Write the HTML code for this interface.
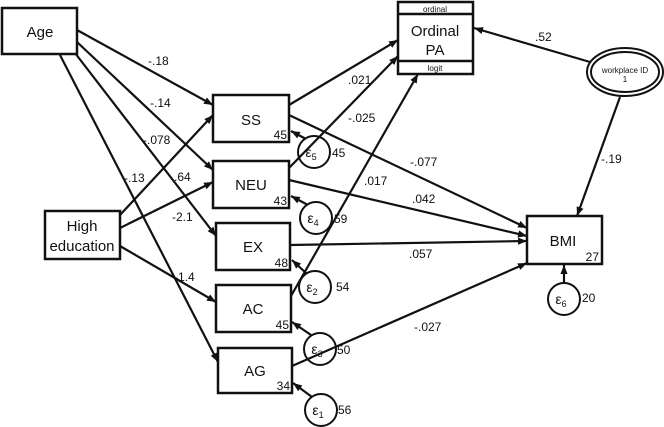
<!DOCTYPE html>
<html><head><style>body{margin:0;background:#fff}svg{display:block}text{font-family:"Liberation Sans",sans-serif;fill:#111}</style></head><body>
<svg width="664" height="427" viewBox="0 0 664 427" xmlns="http://www.w3.org/2000/svg">
<defs><marker id="a" viewBox="0 0 10 10" refX="10" refY="5" markerWidth="9" markerHeight="9" markerUnits="userSpaceOnUse" orient="auto"><path d="M0,1 L10,5 L0,9 z" fill="#111"/></marker></defs>
<g stroke="#111" stroke-width="2.2" fill="none" marker-end="url(#a)">
<line x1="77" y1="30" x2="213" y2="105"/>
<line x1="77" y1="42" x2="213" y2="170"/>
<line x1="75" y1="53" x2="216" y2="236"/>
<line x1="60" y1="55" x2="218" y2="362"/>
<line x1="120" y1="215" x2="213" y2="115"/>
<line x1="120" y1="228" x2="213" y2="182"/>
<line x1="120" y1="246" x2="216" y2="302"/>
<line x1="289" y1="105" x2="398" y2="40"/>
<line x1="289" y1="168" x2="398" y2="56"/>
<line x1="291" y1="296" x2="418" y2="74"/>
<line x1="289" y1="115" x2="527" y2="228"/>
<line x1="289" y1="180" x2="527" y2="236"/>
<line x1="290" y1="245" x2="527" y2="241"/>
<line x1="292" y1="366" x2="527" y2="263"/>
<line x1="590" y1="62" x2="474" y2="28"/>
<line x1="620" y1="97" x2="577" y2="216"/>
<line x1="564" y1="283" x2="564" y2="265"/>
<line x1="306" y1="139" x2="291" y2="131"/>
<line x1="308" y1="205" x2="291" y2="196"/>
<line x1="307" y1="274" x2="292" y2="260"/>
<line x1="311" y1="335" x2="292" y2="322"/>
<line x1="312" y1="397" x2="293" y2="383"/>
</g>
<g stroke="#111" stroke-width="2.5" fill="#fff">
<rect x="2" y="8" width="75" height="46"/>
<rect x="45" y="211" width="75" height="48"/>
<rect x="213" y="95" width="76" height="47"/>
<rect x="213" y="161" width="76" height="47"/>
<rect x="216" y="223" width="74" height="47"/>
<rect x="216" y="285" width="75" height="47"/>
<rect x="218" y="348" width="74" height="45"/>
<rect x="527" y="216" width="75" height="48"/>
<rect x="398" y="2" width="75" height="72"/>
<line x1="398" y1="14" x2="473" y2="14"/><line x1="398" y1="61" x2="473" y2="61"/>
</g>
<g stroke="#111" stroke-width="2" fill="none">
<circle cx="314" cy="152" r="16"/><circle cx="316" cy="218" r="16"/><circle cx="315" cy="287" r="16"/><circle cx="320" cy="349" r="16"/><circle cx="321" cy="410" r="16"/><circle cx="564" cy="299" r="16"/>
<ellipse cx="625" cy="72" rx="38" ry="24"/><ellipse cx="625" cy="72" rx="34" ry="20"/>
</g>
<g font-size="15" text-anchor="middle">
<text x="40" y="37">Age</text><text x="82" y="231">High</text><text x="82" y="251">education</text>
<text x="251" y="125">SS</text><text x="251" y="190">NEU</text><text x="253" y="252">EX</text><text x="253" y="314">AC</text><text x="255" y="376">AG</text>
<text x="563" y="246">BMI</text><text x="435" y="36">Ordinal</text><text x="435" y="55">PA</text>
</g>
<g font-size="8" text-anchor="middle" fill="#444"><text x="435" y="12">ordinal</text><text x="435" y="71">logit</text><text x="625" y="73">workplace ID</text><text x="625" y="82">1</text></g>
<g font-size="12" text-anchor="end"><text x="287" y="139">45</text><text x="287" y="205">43</text><text x="288" y="267">48</text><text x="289" y="329">45</text><text x="290" y="390">34</text><text x="599" y="261">27</text></g>
<g font-size="14" text-anchor="middle"><text x="311" y="157">ε<tspan font-size="9" dy="3">5</tspan></text><text x="313" y="223">ε<tspan font-size="9" dy="3">4</tspan></text><text x="312" y="292">ε<tspan font-size="9" dy="3">2</tspan></text><text x="317" y="354">ε<tspan font-size="9" dy="3">3</tspan></text><text x="318" y="415">ε<tspan font-size="9" dy="3">1</tspan></text><text x="561" y="304">ε<tspan font-size="9" dy="3">6</tspan></text></g>
<g font-size="12"><text x="332" y="157">45</text><text x="334" y="223">59</text><text x="336" y="291">54</text><text x="337" y="354">50</text><text x="338" y="414">56</text><text x="582" y="302">20</text>
<text x="148" y="65">-.18</text><text x="150" y="107">-.14</text><text x="143" y="144">-.078</text><text x="124" y="182">-.13</text><text x="174" y="181">.64</text><text x="172" y="221">-2.1</text><text x="174" y="281">-1.4</text>
<text x="348" y="84">.021</text><text x="348" y="122">-.025</text><text x="364" y="185">.017</text><text x="410" y="166">-.077</text><text x="412" y="203">.042</text><text x="409" y="258">.057</text><text x="414" y="331">-.027</text>
<text x="535" y="41">.52</text><text x="601" y="163">-.19</text></g>
</svg>
</body></html>
